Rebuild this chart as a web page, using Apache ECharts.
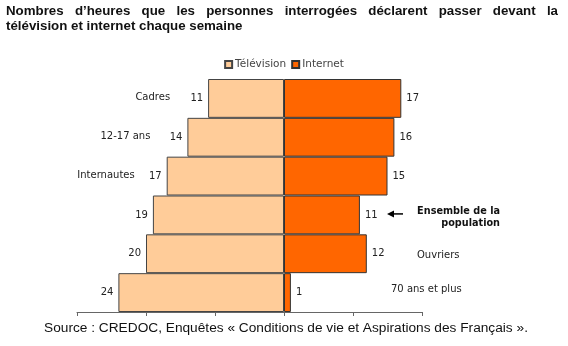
<!DOCTYPE html>
<html>
<head>
<meta charset="utf-8">
<script src="https://cdn.jsdelivr.net/npm/echarts@6/dist/echarts.min.js"></script>
<style>
  html, body { margin: 0; padding: 0; background: #fff; }
  #chart { width: 568px; height: 346px; }
</style>
</head>
<body>
<div id="chart"></div>
<script>
// Weekly hours spent in front of television and on the internet
const categories = ['Cadres', '12-17 ans', 'Internautes', 'Ensemble de la population', 'Ouvriers', '70 ans et plus'];
const television = [11, 14, 17, 19, 20, 24];
const internet = [17, 16, 15, 11, 12, 1];
const seriesNames = ['Télévision', 'Internet'];

const titleLine1 = 'Nombres d’heures que les personnes interrogées déclarent passer devant la';
const titleLine2 = 'télévision et internet chaque semaine';
const sourceText = 'Source : CREDOC, Enquêtes « Conditions de vie et Aspirations des Français ».';

const labelFont = '"DejaVu Sans", Verdana, sans-serif';
const titleFont = '"Liberation Sans", Arial, sans-serif';

const chart = echarts.init(document.getElementById('chart'), null, { renderer: 'canvas' });

chart.setOption({
  animation: false,
  backgroundColor: '#ffffff',
  legend: {
    data: seriesNames,
    top: 54,
    left: 'center',
    icon: 'rect',
    itemWidth: 7,
    itemHeight: 7,
    itemGap: 5,
    textStyle: { fontFamily: labelFont, fontSize: 10.5, color: '#444', padding: [0, 0, 0, -2] }
  },
  grid: { left: 77, right: 146, top: 79, bottom: 34, containLabel: false },
  xAxis: {
    type: 'value',
    min: -30,
    max: 20,
    interval: 10,
    axisLine: { show: true, lineStyle: { color: '#666', width: 1 } },
    axisTick: { show: true, length: 4, lineStyle: { color: '#666' } },
    axisLabel: { show: false },
    splitLine: { show: false }
  },
  yAxis: {
    type: 'category',
    data: categories,
    inverse: true,
    axisLine: { show: false },
    axisTick: { show: false },
    axisLabel: { show: false },
    splitLine: { show: false }
  },
  series: [
    {
      name: seriesNames[0],
      type: 'bar',
      data: television.map(v => -v),
      barCategoryGap: 0,
      barGap: '-100%',
      itemStyle: { color: '#FFCC99', borderColor: '#444', borderWidth: 1 },
      label: {
        show: true,
        position: 'left',
        distance: 5,
        formatter: p => Math.abs(p.value),
        fontFamily: labelFont,
        fontSize: 10,
        color: '#222'
      }
    },
    {
      name: seriesNames[1],
      type: 'bar',
      data: internet,
      barCategoryGap: 0,
      barGap: '-100%',
      itemStyle: { color: '#FF6600', borderColor: '#333', borderWidth: 1 },
      label: {
        show: true,
        position: 'right',
        distance: 5,
        fontFamily: labelFont,
        fontSize: 10,
        color: '#222'
      }
    }
  ]
});

// Title words spread across the full width of the first line (justified)
function justifiedWords(text, font, x0, x1, y) {
  const ctx = document.createElement('canvas').getContext('2d');
  ctx.font = font;
  const words = text.split(' ');
  const widths = words.map(w => ctx.measureText(w).width);
  const total = widths.reduce((a, b) => a + b, 0);
  const gap = (x1 - x0 - total) / (words.length - 1);
  let x = x0;
  return words.map((w, i) => {
    const el = {
      type: 'text', left: x, top: y,
      style: { text: w, font: font, fill: '#111' }
    };
    x += widths[i] + gap;
    return el;
  });
}

const titleCss = 'bold 13.3px ' + titleFont;
const graphics = justifiedWords(titleLine1, titleCss, 6, 558, 5);
graphics.push({ type: 'text', left: 6, top: 20, style: { text: titleLine2, font: titleCss, fill: '#111' } });

// Category names placed beside the bars
const rowY = i => chart.convertToPixel({ yAxisIndex: 0 }, i);
const tvEnd = i => chart.convertToPixel({ xAxisIndex: 0 }, -television[i]);
const leftGap = [38, 37, 32];
for (let i = 0; i < 3; i++) {
  graphics.push({
    type: 'text', x: tvEnd(i) - leftGap[i], y: rowY(i) - 1,
    style: { text: categories[i], font: '10px ' + labelFont, fill: '#222', textAlign: 'right', textVerticalAlign: 'middle' }
  });
}
// Whole population: bold two-line note with an arrow pointing at its bar
const yEns = rowY(3);
graphics.push({
  type: 'text', x: 500, y: yEns + 3,
  style: { text: 'Ensemble de la\npopulation', font: 'bold 9.7px ' + labelFont, fill: '#111', textAlign: 'right', textVerticalAlign: 'middle', lineHeight: 12 }
});
graphics.push({ type: 'line', shape: { x1: 392, y1: yEns - 1, x2: 403, y2: yEns - 1 }, style: { stroke: '#000', lineWidth: 1.5 } });
graphics.push({ type: 'polygon', shape: { points: [[387, yEns - 1], [394, yEns - 4.5], [394, yEns + 2.5]] }, style: { fill: '#000' } });
graphics.push({
  type: 'text', x: 417, y: rowY(4) + 2,
  style: { text: categories[4], font: '10px ' + labelFont, fill: '#222', textAlign: 'left', textVerticalAlign: 'middle' }
});
graphics.push({
  type: 'text', x: 391, y: rowY(5) - 3,
  style: { text: categories[5], font: '10px ' + labelFont, fill: '#222', textAlign: 'left', textVerticalAlign: 'middle' }
});

// Source line
graphics.push({
  type: 'text', x: 286, y: 328,
  style: { text: sourceText, font: '13.7px ' + titleFont, fill: '#111', textAlign: 'center', textVerticalAlign: 'middle' }
});

chart.setOption({ graphic: graphics });
</script>
</body>
</html>
